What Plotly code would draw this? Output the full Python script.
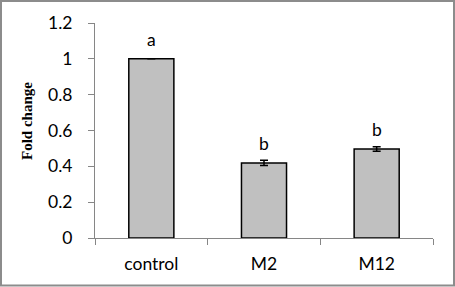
import plotly.graph_objects as go

categories = ["control", "M2", "M12"]
values = [1.0, 0.419, 0.497]
errors = [0.0, 0.015, 0.013]
letters = ["a", "b", "b"]
letter_y = [1.107, 0.527, 0.607]
y_ticks = [0, 0.2, 0.4, 0.6, 0.8, 1, 1.2]
y_ticktext = ["0", "0.2", "0.4", "0.6", "0.8", "1", "1.2"]

W, H = 455, 287
L, R, T, B = 95, 22, 23, 49
pw, ph = W - L - R, H - T - B

def px(x):
    return (x - L) / pw

def py(y):
    return (H - B - y) / ph

tick_font = dict(family="Lato, 'Open Sans', sans-serif", size=17.5, color="#000000")

fig = go.Figure()
fig.add_trace(go.Bar(
    x=categories, y=values, width=0.4,
    marker=dict(color="#c0c0c0", line=dict(color="#000000", width=1.5)),
    error_y=dict(type="data", array=errors, visible=True, color="#000000",
                 thickness=1.5, width=4),
    showlegend=False,
))

for c, t, ly in zip(categories, letters, letter_y):
    fig.add_annotation(x=c, y=ly, text=t, showarrow=False, xref="x", yref="y",
                       yanchor="middle", font=tick_font)

fig.add_annotation(x=px(27), y=py(121), xref="paper", yref="paper", text="<b>Fold change</b>",
                   textangle=-90, showarrow=False, xanchor="center", yanchor="middle",
                   font=dict(family="'Liberation Serif', 'Times New Roman', serif", size=15, color="#000000"))

fig.add_shape(type="rect", xref="paper", yref="paper",
              x0=px(1), x1=px(454), y0=py(285.5), y1=py(1),
              line=dict(color="#8c8c8c", width=2), fillcolor="rgba(0,0,0,0)", layer="below")

fig.update_layout(
    width=W, height=H,
    margin=dict(l=L, r=R, t=T, b=B, autoexpand=False),
    paper_bgcolor="white", plot_bgcolor="white",
    bargap=0.6,
    xaxis=dict(showline=True, linecolor="#868686", linewidth=1, ticks="outside",
               tickson="boundaries", ticklen=6, tickcolor="#868686", tickfont=tick_font,
               showgrid=False, zeroline=False, ticklabelstandoff=10),
    yaxis=dict(range=[0, 1.2], tickvals=y_ticks, ticktext=y_ticktext,
               showline=True, linecolor="#868686", linewidth=1, ticks="outside",
               ticklen=6, tickcolor="#868686", tickfont=tick_font, showgrid=False,
               zeroline=False, ticklabelstandoff=12),
)

fig.write_html("out.html", config={"displayModeBar": False},
               post_script="document.body.style.margin='0';document.body.style.padding='0';document.body.style.overflow='hidden';")
